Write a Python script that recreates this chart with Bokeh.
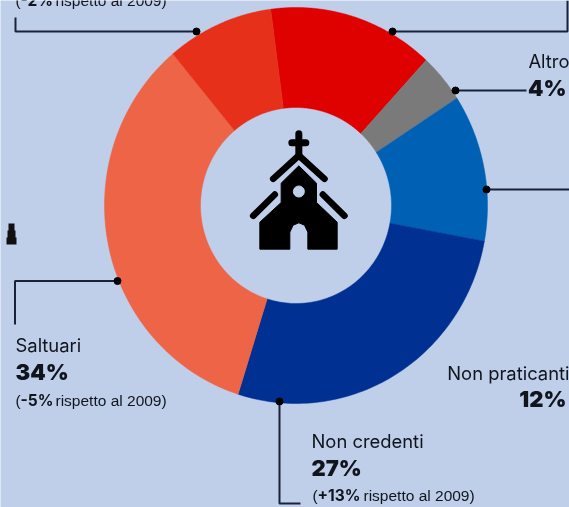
import numpy as np
from bokeh.plotting import figure
from bokeh.embed import file_html
from bokeh.resources import INLINE
from bokeh.core.properties import value

# data: clockwise from the top slice
categories = ["Praticanti assidui", "Altro", "Non praticanti", "Non credenti", "Saltuari", "Praticanti"]
shares = [14, 4, 12, 27, 34, 9]
colors = ["#DF0000", "#7A7A7A", "#0060B4", "#003092", "#EE6446", "#E7301A"]

BG = "#BFCFEA"
INK = "#1A2238"
CX, CY, RX, RY, IRX, IRY = 295.5, 205, 191.5, 198, 95.5, 98
START = -7.6

p = figure(width=569, height=507, x_range=(0, 569), y_range=(507, 0),
           output_backend="svg", toolbar_location=None, min_border=0,
           background_fill_color=BG, border_fill_color=BG, outline_line_color=None)
p.axis.visible = False
p.grid.visible = False
p.styles = {"position": "fixed", "left": "0px", "top": "0px"}

# ring
cum = START
for s, c in zip(shares, colors):
    a = np.radians(np.linspace(cum, cum + s * 3.6, 80))
    xs = np.concatenate([CX + RX * np.sin(a), CX + IRX * np.sin(a[::-1])])
    ys = np.concatenate([CY - RY * np.cos(a), CY - IRY * np.cos(a[::-1])])
    p.patch(xs, ys, fill_color=c, line_color=c, line_width=0.5)
    cum += s * 3.6

# leader lines and their dots
leaders = [
    ([15, 15, 196], [17, 31, 31], (196, 31)),
    ([392, 567, 567], [31, 31, 0], (392, 31)),
    ([455, 526], [90, 90], (455, 90)),
    ([486, 569], [189, 189], (486, 189)),
    ([117, 14.5, 14.5], [280.5, 280.5, 324], (117, 280.5)),
    ([279, 279, 300], [401, 503, 503], (279, 401)),
]
for lx, ly, dot in leaders:
    p.line(lx, ly, line_color=INK, line_width=2)
    p.scatter([dot[0]], [dot[1]], size=7, color="black")

# small dark mark at the left edge
p.patch([8, 8, 7, 7, 6, 6, 16, 16, 15, 15, 14, 14], [223, 230, 230, 237, 237, 244, 244, 237, 237, 230, 230, 223],
        fill_color="#101010", line_color=None)

# church icon
ix = lambda v: [230 + q / 3 for q in v]
iy = lambda v: [120 + q / 3 for q in v]
body_x = [205, 152, 152, 88, 88, 178, 178, 188, 205, 222, 232, 232, 320, 320, 258, 258]
body_y = [136, 188, 246, 305, 386, 386, 335, 314, 307, 314, 335, 386, 386, 305, 246, 188]
p.patch(ix(body_x), iy(body_y), fill_color="black", line_color="black", line_width=1)
for sx, sy, w in [([205, 205], [40, 105], 7), ([184, 226], [67, 67], 7),
                  ([128, 205, 282], [175, 105, 175], 6.5),
                  ([68, 133], [286, 222], 6.5), ([342, 277], [286, 222], 6.5)]:
    p.line(ix(sx), iy(sy), line_color="black", line_width=w, line_cap="round", line_join="round")
p.scatter(ix([205]), iy([213]), size=11, color=BG)

# texts
def t(x, y, s, size, bold=False, align="left", font="Inter"):
    p.text([x], [y], text=[s], text_font=value(font), text_font_size=f"{size}px",
           text_font_style="bold" if bold else "normal", text_align=align,
           text_baseline="middle", text_color="#10141C")

def note(x, y, delta, rest_x):
    t(x, y, "(", 15.5, font="Liberation Sans")
    t(x + 5, y, delta, 15.5, True)
    t(rest_x, y, "rispetto al 2009)", 15.5, font="Liberation Sans")

note(15, 0, "-2%", 55)
t(569, 60, "Altro", 18.4, align="right")
t(566, 87, "4%", 22, True, "right", font="Inter Black")
t(569, 372, "Non praticanti", 18.4, align="right")
t(566, 398, "12%", 22, True, "right", font="Inter Black")
t(15, 344, "Saltuari", 18.4)
t(15, 371, "34%", 22, True, font="Inter Black")
note(15, 400, "-5%", 55)
t(311, 440, "Non credenti", 18.4)
t(311, 467, "27%", 22, True, font="Inter Black")
note(312, 495, "+13%", 363)

open("out.html", "w").write(file_html(p, INLINE))
